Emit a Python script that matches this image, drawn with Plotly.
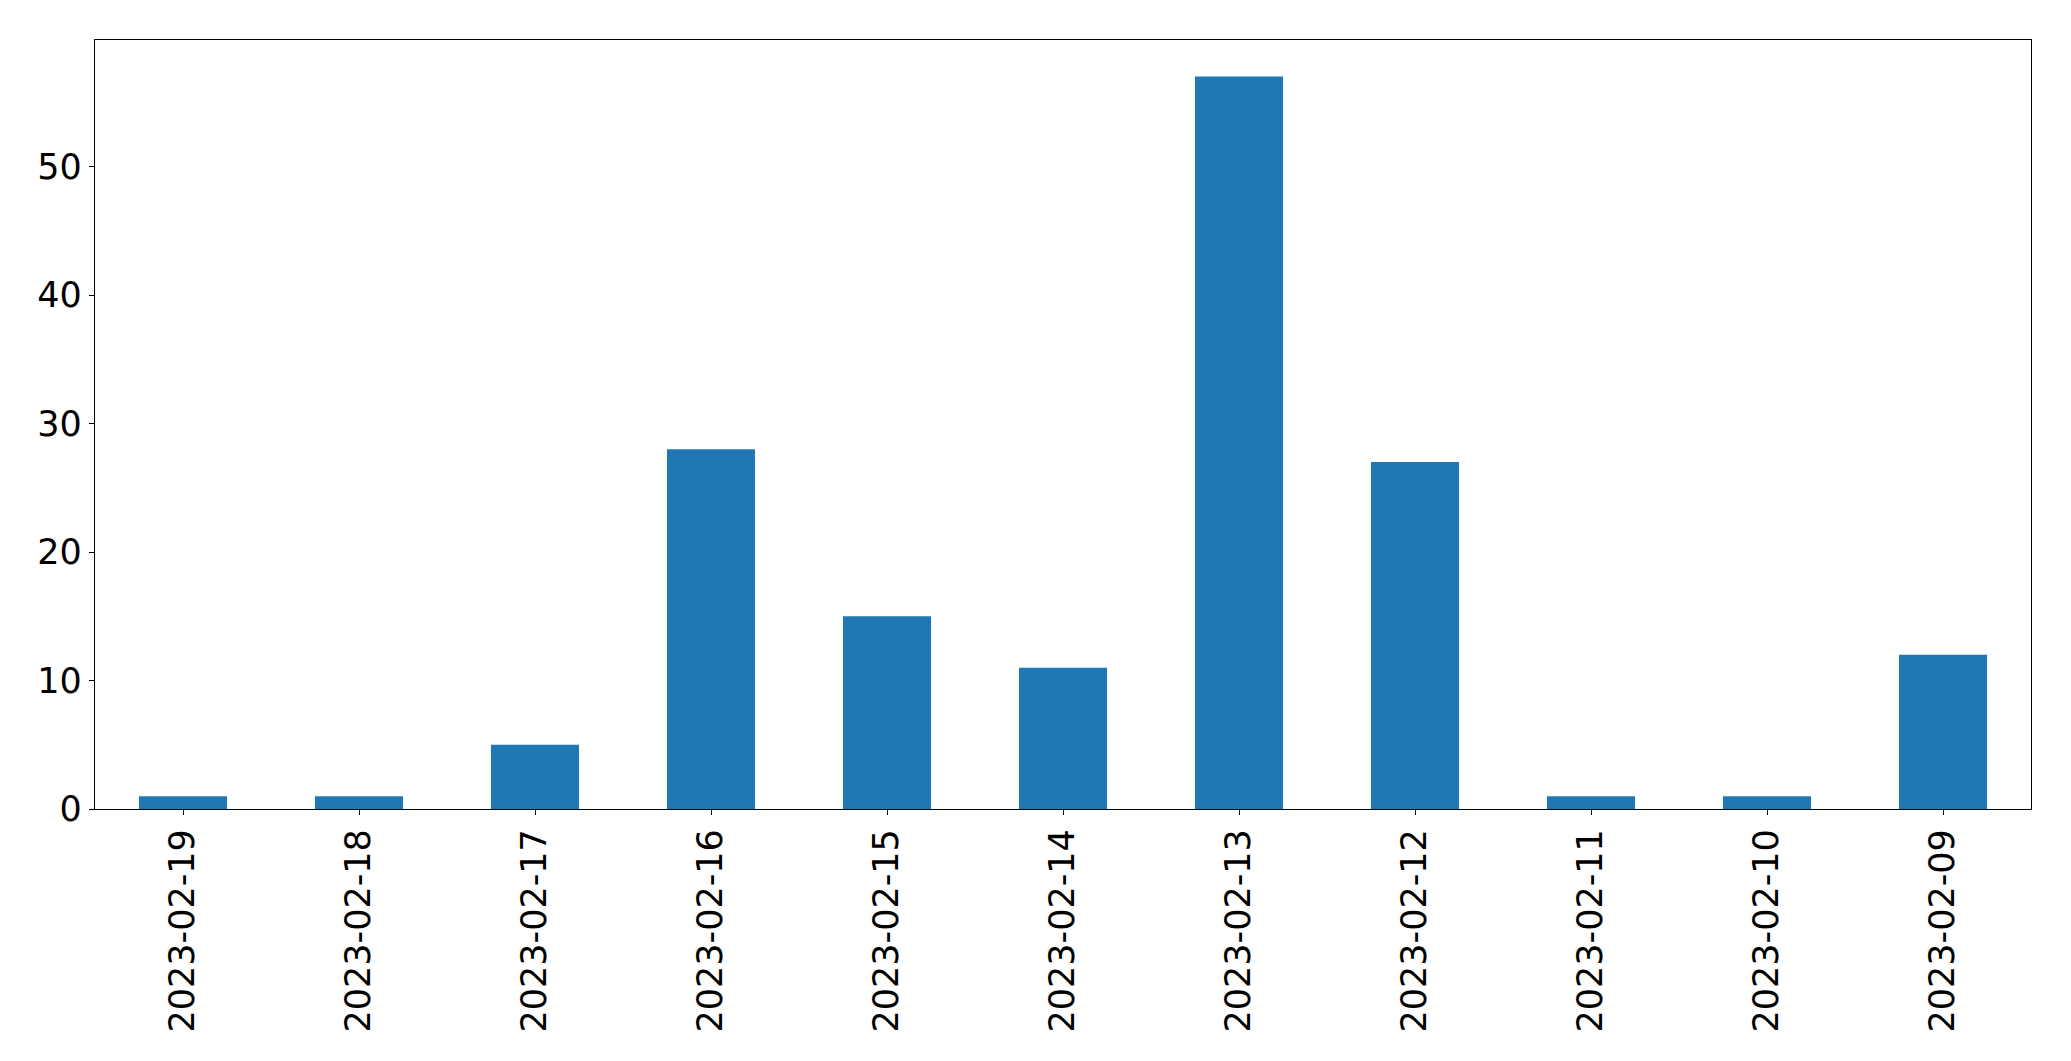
import plotly.graph_objects as go

dates = ["2023-02-19", "2023-02-18", "2023-02-17", "2023-02-16", "2023-02-15",
         "2023-02-14", "2023-02-13", "2023-02-12", "2023-02-11", "2023-02-10", "2023-02-09"]
counts = [1, 1, 5, 28, 15, 11, 57, 27, 1, 1, 12]
y_ticks = [0, 10, 20, 30, 40, 50]

fig = go.Figure(go.Bar(x=dates, y=counts, width=0.5, marker_color="#1f77b4",
                       marker_line_width=0))

font = dict(family="DejaVu Sans", size=35, color="black")
fig.update_layout(
    width=2055, height=1045,
    margin=dict(l=86.5, r=31.5, t=31.5, b=244, pad=0),
    plot_bgcolor="white", paper_bgcolor="white",
    showlegend=False,
    font=font,
)
fig.update_xaxes(type="category", range=[-0.5, 10.5], tickangle=-90,
                 showline=True, linecolor="black", linewidth=1.3, mirror=True,
                 ticks="outside", ticklen=5, tickcolor="black", tickwidth=1.3,
                 showgrid=False, tickfont=font)
fig.update_yaxes(range=[0, 59.85], tickvals=y_ticks,
                 showline=True, linecolor="black", linewidth=1.3, mirror=True,
                 ticks="outside", ticklen=5, tickcolor="black", tickwidth=1.3,
                 showgrid=False, zeroline=False, tickfont=font)

fig.write_html("out.html")
